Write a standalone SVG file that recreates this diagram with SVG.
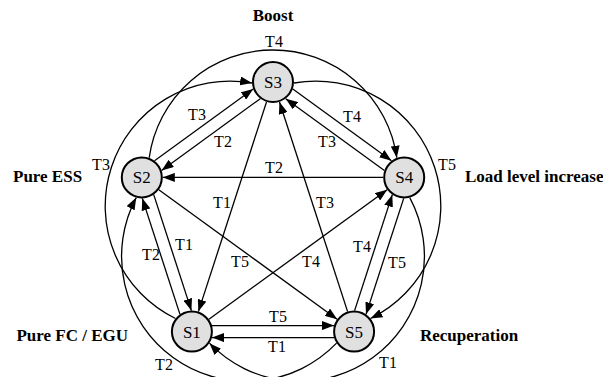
<svg xmlns="http://www.w3.org/2000/svg" width="603" height="377" viewBox="0 0 603 377">
  <defs>
    <marker id="arr" viewBox="0 0 12 9" refX="12" refY="4.5" markerWidth="12" markerHeight="9" markerUnits="userSpaceOnUse" orient="auto">
      <path d="M0,0 L12,4.5 L0,9 z" fill="#000"/>
    </marker>
  </defs>
  <style>
    .c { fill: none; stroke: #000; stroke-width: 1.3; marker-end: url(#arr); }
    .n { fill: #e0e0e0; stroke: #000; stroke-width: 2; }
    .s { font-family: "Liberation Serif", "Times New Roman", serif; font-size: 17px; text-anchor: middle; fill: #000; }
    .t { font-family: "Liberation Serif", "Times New Roman", serif; font-size: 16px; text-anchor: middle; fill: #000; }
    .h { font-family: "Liberation Serif", "Times New Roman", serif; font-size: 17px; font-weight: bold; fill: #000; }
  </style>
  <rect width="603" height="377" fill="#fff"/>

  <g id="connectors">
    <!-- outer arcs (rotations of the S2->S4 arc around pentagon centre) -->
    <path class="c" d="M149.2,157.72 A125,125 0 0 1 396.8,157.72"/>
    <path class="c" d="M149.2,157.72 A125,125 0 0 1 396.8,157.72" transform="rotate(-72 273 220)"/>
    <path class="c" d="M149.2,157.72 A125,125 0 0 1 396.8,157.72" transform="rotate(72 273 220)"/>
    <path class="c" d="M149.2,157.72 A125,125 0 0 1 396.8,157.72" transform="rotate(144 273 220)"/>
    <path class="c" d="M149.2,157.72 A125,125 0 0 1 396.8,157.72" transform="rotate(-144 273 220)"/>

    <!-- adjacent pairs -->
    <path class="c" d="M154.53,160.73 L253.21,88.97"/>
    <path class="c" d="M260.27,98.67 L161.59,170.43"/>
    <path class="c" d="M292.79,88.97 L391.47,160.73"/>
    <path class="c" d="M384.41,170.43 L285.73,98.67"/>
    <path class="c" d="M403.70,198.37 L366.02,314.33"/>
    <path class="c" d="M354.60,310.63 L392.28,194.67"/>
    <path class="c" d="M212,325.6 L334,325.6"/>
    <path class="c" d="M334,337.6 L212,337.6"/>
    <path class="c" d="M153.72,194.67 L191.40,310.63"/>
    <path class="c" d="M179.98,314.33 L142.30,198.37"/>

    <!-- diagonals -->
    <path class="c" d="M383.2,177.4 L162.8,177.4"/>
    <path class="c" d="M266.51,101.98 L198.39,311.62"/>
    <path class="c" d="M347.61,311.62 L279.49,101.98"/>
    <path class="c" d="M208.89,319.26 L387.21,189.74"/>
    <path class="c" d="M158.79,189.74 L337.11,319.26"/>
  </g>

  <g id="connector-labels">
    <text class="t" x="274" y="47">T4</text>
    <text class="t" x="101" y="170">T3</text>
    <text class="t" x="447" y="170">T5</text>
    <text class="t" x="164" y="370">T2</text>
    <text class="t" x="388" y="368">T1</text>
    <text class="t" x="278" y="322">T5</text>
    <text class="t" x="277" y="352">T1</text>
    <text class="t" x="197" y="120">T3</text>
    <text class="t" x="223" y="147">T2</text>
    <text class="t" x="352" y="122">T4</text>
    <text class="t" x="327" y="147">T3</text>
    <text class="t" x="274" y="173">T2</text>
    <text class="t" x="222" y="208">T1</text>
    <text class="t" x="325" y="208">T3</text>
    <text class="t" x="240" y="267">T5</text>
    <text class="t" x="311" y="267">T4</text>
    <text class="t" x="151" y="260">T2</text>
    <text class="t" x="184" y="250">T1</text>
    <text class="t" x="362" y="252">T4</text>
    <text class="t" x="397" y="268">T5</text>
  </g>

  <g id="S3">
    <circle class="n" cx="273" cy="82" r="20"/>
    <text class="s" x="273" y="88">S3</text>
    <text class="h" x="273" y="21" text-anchor="middle">Boost</text>
  </g>
  <g id="S2">
    <circle class="n" cx="141.8" cy="177.4" r="20"/>
    <text class="s" x="141.8" y="183.4">S2</text>
    <text class="h" x="13" y="182">Pure ESS</text>
  </g>
  <g id="S4">
    <circle class="n" cx="404.2" cy="177.4" r="20"/>
    <text class="s" x="404.2" y="183.4">S4</text>
    <text class="h" x="465" y="182">Load level increase</text>
  </g>
  <g id="S1">
    <circle class="n" cx="191.9" cy="331.6" r="20"/>
    <text class="s" x="191.9" y="337.6">S1</text>
    <text class="h" x="128" y="341" text-anchor="end">Pure FC / EGU</text>
  </g>
  <g id="S5">
    <circle class="n" cx="354.1" cy="331.6" r="20"/>
    <text class="s" x="354.1" y="337.6">S5</text>
    <text class="h" x="420" y="341">Recuperation</text>
  </g>
</svg>
